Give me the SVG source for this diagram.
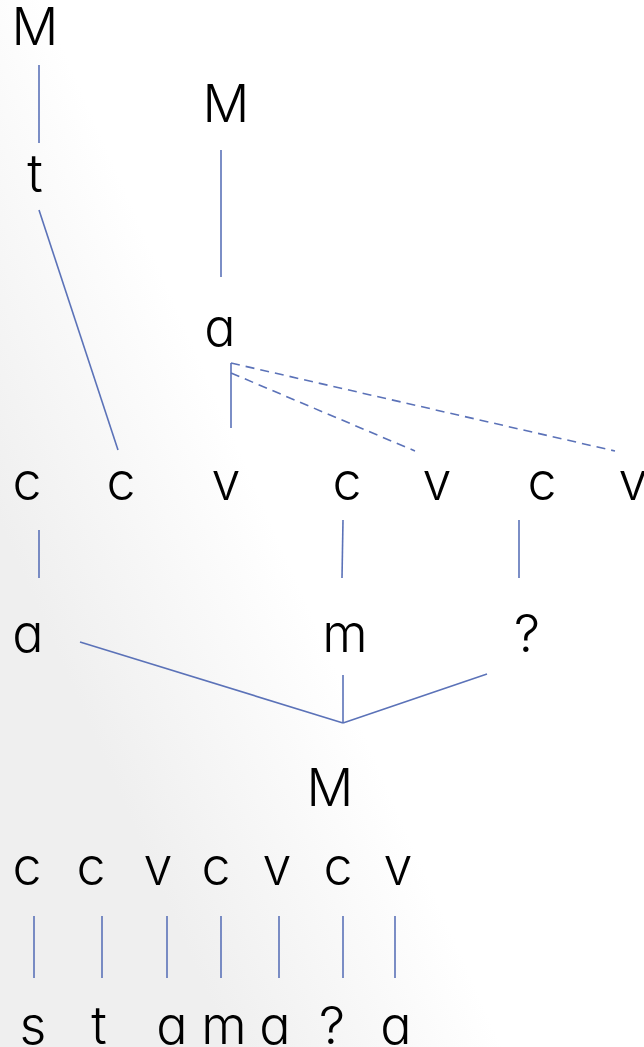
<svg xmlns="http://www.w3.org/2000/svg" width="644" height="1047" viewBox="0 0 644 1047">
<defs>
<linearGradient id="bg" x1="0" y1="0.5" x2="0.28" y2="0.3">
<stop offset="0" stop-color="#efefef"/>
<stop offset="1" stop-color="#ffffff"/>
</linearGradient>
<style>
text{font-family:Inter,"Liberation Sans",sans-serif;font-size:52px;font-weight:300;fill:#000;text-anchor:middle;font-feature-settings:"cv11" 1;}
.l{stroke:#5b72b8;stroke-width:1.6;fill:none;}
.d{stroke-dasharray:9 6;}
</style>
</defs>
<rect width="644" height="1047" fill="url(#bg)"/>
<g id="connectors">
<line class="l" x1="39" y1="65" x2="39" y2="143"/>
<line class="l" x1="39" y1="210" x2="118" y2="450"/>
<line class="l" x1="221" y1="150" x2="221" y2="277"/>
<line class="l" x1="231" y1="363" x2="231" y2="428"/>
<line class="l d" x1="231" y1="363" x2="615" y2="451"/>
<line class="l d" x1="231" y1="373" x2="415" y2="451"/>
<line class="l" x1="39" y1="530" x2="39" y2="578"/>
<line class="l" x1="343" y1="520" x2="342" y2="578"/>
<line class="l" x1="519" y1="520" x2="519" y2="578"/>
<line class="l" x1="80" y1="642" x2="343" y2="723"/>
<line class="l" x1="343" y1="675" x2="343" y2="723"/>
<line class="l" x1="487" y1="674" x2="343" y2="723"/>
<line class="l" x1="34" y1="916" x2="34" y2="978"/>
<line class="l" x1="102" y1="916" x2="102" y2="978"/>
<line class="l" x1="167" y1="916" x2="167" y2="978"/>
<line class="l" x1="221" y1="916" x2="221" y2="978"/>
<line class="l" x1="279" y1="916" x2="279" y2="978"/>
<line class="l" x1="343" y1="916" x2="343" y2="978"/>
<line class="l" x1="395" y1="916" x2="395" y2="978"/>
</g>
<g id="M1"><text x="35" y="45">M</text></g>
<g id="t1"><text x="35" y="192">t</text></g>
<g id="M2"><text x="226" y="122">M</text></g>
<g id="a1"><text x="220" y="346">a</text></g>
<g id="row2">
<text x="27" y="500">c</text>
<text x="121" y="500">c</text>
<text x="226" y="500">v</text>
<text x="347" y="500">c</text>
<text x="437" y="500">v</text>
<text x="542" y="500">c</text>
<text x="633" y="500">v</text>
</g>
<g id="row3">
<text x="28" y="652">a</text>
<text x="345" y="652">m</text>
<text x="527" y="652">?</text>
</g>
<g id="M3"><text x="330" y="806">M</text></g>
<g id="row4">
<text x="27" y="885">c</text>
<text x="91" y="885">c</text>
<text x="158" y="885">v</text>
<text x="216" y="885">c</text>
<text x="277" y="885">v</text>
<text x="338" y="885">c</text>
<text x="398" y="885">v</text>
</g>
<g id="row5">
<text x="33" y="1044">s</text>
<text x="99" y="1044">t</text>
<text x="172" y="1044">a</text>
<text x="224" y="1044">m</text>
<text x="275" y="1044">a</text>
<text x="332" y="1044">?</text>
<text x="396" y="1044">a</text>
</g>
</svg>
